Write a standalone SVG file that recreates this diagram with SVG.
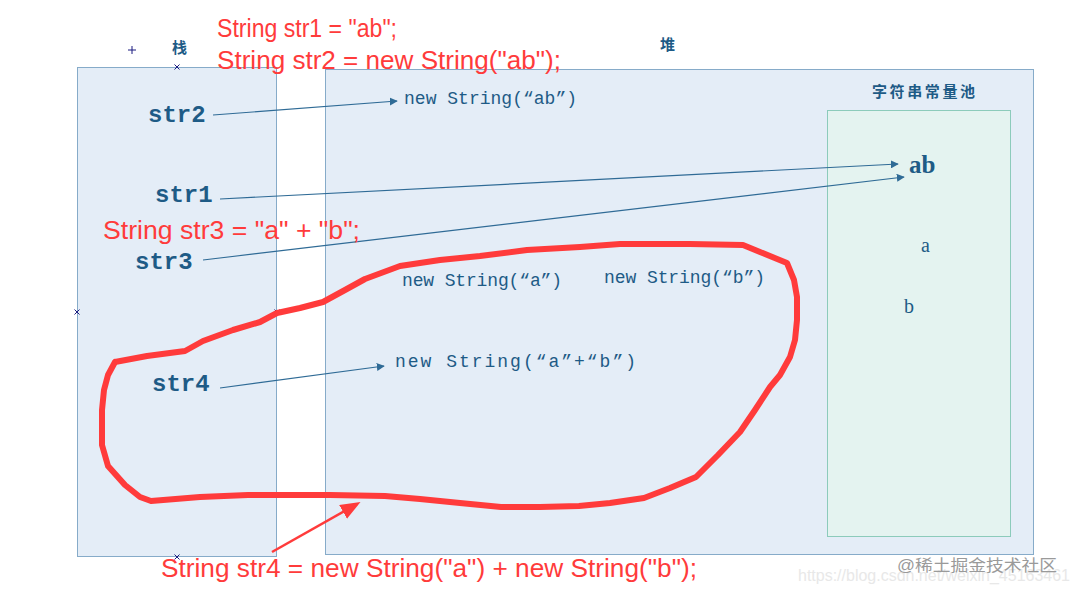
<svg xmlns="http://www.w3.org/2000/svg" width="1076" height="592" viewBox="0 0 1076 592">
<defs>
<style>
.box{fill:#e4edf7;stroke:#86abc9;stroke-width:1}
.pool{fill:#e4f3f0;stroke:#8ccbbb;stroke-width:1}
.lbl{fill:#1e5b86;font-family:"Liberation Sans","Noto Sans CJK SC",sans-serif;font-weight:bold;font-size:15px}
.var{fill:#1e5b86;font-family:"Liberation Mono",monospace;font-weight:bold;font-size:24px}
.obj{fill:#1e5b86;font-family:"Liberation Mono",monospace;font-size:18px}
.ser{fill:#1e5b86;font-family:"Liberation Serif",serif}
.red{fill:#ff3b3b;font-family:"Liberation Sans",sans-serif;font-size:26px}
.conn{stroke:#2f6b96;stroke-width:1.2;fill:none}
.mk{stroke:#1b1b80;stroke-width:1;fill:none}
.wm{font-family:"Liberation Sans","Noto Sans CJK SC",sans-serif;font-size:16px}
</style>
<marker id="ah" viewBox="0 0 10 10" refX="9" refY="5" markerWidth="8" markerHeight="8" markerUnits="userSpaceOnUse" orient="auto">
<path d="M0,0 L10,5 L0,10 z" fill="#2f6b96"/>
</marker>
<marker id="rah" viewBox="0 0 10 10" refX="8" refY="5" markerWidth="20" markerHeight="16" markerUnits="userSpaceOnUse" orient="auto" preserveAspectRatio="none">
<path d="M0,0 L10,5 L0,10 z" fill="#ff3b3b"/>
</marker>
</defs>
<rect width="1076" height="592" fill="#ffffff"/>

<g id="stack">
<rect class="box" x="77.5" y="67.5" width="199" height="489"/>
<text class="lbl" x="172" y="53">栈</text>
</g>

<g id="heap">
<rect class="box" x="325.5" y="69.5" width="708" height="485"/>
<text class="lbl" x="660" y="50">堆</text>
</g>

<g id="pool">
<rect class="pool" x="827.5" y="110.5" width="183" height="426"/>
<text class="lbl" x="872" y="97" letter-spacing="2.6">字符串常量池</text>
</g>

<g id="markers">
<path class="mk" d="M128,50 h8 M132,46 v8" stroke="#5b8fc0"/>
<path class="mk" d="M174.5,64.5 l5,5 M179.5,64.5 l-5,5"/>
<path class="mk" d="M74.5,309.5 l5,5 M79.5,309.5 l-5,5"/>
<path class="mk" d="M274.5,309.5 l5,5 M279.5,309.5 l-5,5"/>
<path class="mk" d="M174.5,554.5 l5,5 M179.5,554.5 l-5,5"/>
</g>

<g id="str2"><text class="var" x="148" y="122">str2</text></g>
<g id="str1"><text class="var" x="155" y="202">str1</text></g>
<g id="str3"><text class="var" x="135" y="269">str3</text></g>
<g id="str4"><text class="var" x="152" y="391">str4</text></g>

<g id="obj-ab"><text class="obj" x="404" y="104" textLength="173">new String(“ab”)</text></g>
<g id="obj-a"><text class="obj" x="402" y="286" textLength="160">new String(“a”)</text></g>
<g id="obj-b"><text class="obj" x="604" y="283" textLength="161">new String(“b”)</text></g>
<g id="obj-a-b"><text class="obj" x="395" y="367" font-size="21" textLength="241">new String(“a”+“b”)</text></g>

<g id="pool-ab"><text class="ser" x="909" y="173" font-size="25" font-weight="bold">ab</text></g>
<g id="pool-a"><text class="ser" x="921" y="252" font-size="20">a</text></g>
<g id="pool-b"><text class="ser" x="904" y="313" font-size="20">b</text></g>

<g id="connectors">
<line class="conn" x1="213" y1="115" x2="397" y2="101" marker-end="url(#ah)"/>
<line class="conn" x1="220" y1="199" x2="898" y2="164" marker-end="url(#ah)"/>
<line class="conn" x1="203" y1="260" x2="904" y2="177" marker-end="url(#ah)"/>
<line class="conn" x1="220" y1="388" x2="384" y2="366" marker-end="url(#ah)"/>
<line x1="272" y1="552" x2="357" y2="504" stroke="#ff3b3b" stroke-width="2.5" marker-end="url(#rah)"/>
</g>

<g id="loop">
<polyline fill="none" stroke="#ff3b3b" stroke-width="6" stroke-linejoin="round" stroke-linecap="round" points="115,362 147,356 185,351 203,341 233,330 260,322 277,313 300,308 323,302 345,290 365,279 400,266 440,260 480,256 527,250 580,247 620,244 690,244 743,245 760,252 787,263 794,280 797,297 797,320 795,340 790,357 780,375 770,387 755,410 740,432 718,455 696,477 670,488 644,498 610,503 579,506 540,507 501,507 460,503 420,499 385,496 330,495 248,495 200,497 151,501 140,497 125,485 108,466 102,445 102,410 104,390 108,375 115,362"/>
</g>

<g id="code">
<text class="red" x="217" y="37" textLength="180" lengthAdjust="spacingAndGlyphs">String str1 = "ab";</text>
<text class="red" x="217" y="69" textLength="344" lengthAdjust="spacingAndGlyphs">String str2 = new String("ab");</text>
<text class="red" x="103" y="239" textLength="257" lengthAdjust="spacingAndGlyphs">String str3 = "a" + "b";</text>
<text class="red" x="161" y="577" textLength="536" lengthAdjust="spacingAndGlyphs">String str4 = new String("a") + new String("b");</text>
</g>

<g id="watermark">
<text class="wm" x="798" y="581" fill="#e8e8e8" textLength="272" lengthAdjust="spacingAndGlyphs">https://blog.csdn.net/weixin_45163461</text>
<text class="wm" x="897" y="571" fill="#9a9a9a" font-size="17" textLength="160" lengthAdjust="spacingAndGlyphs">@稀土掘金技术社区</text>
</g>
</svg>
